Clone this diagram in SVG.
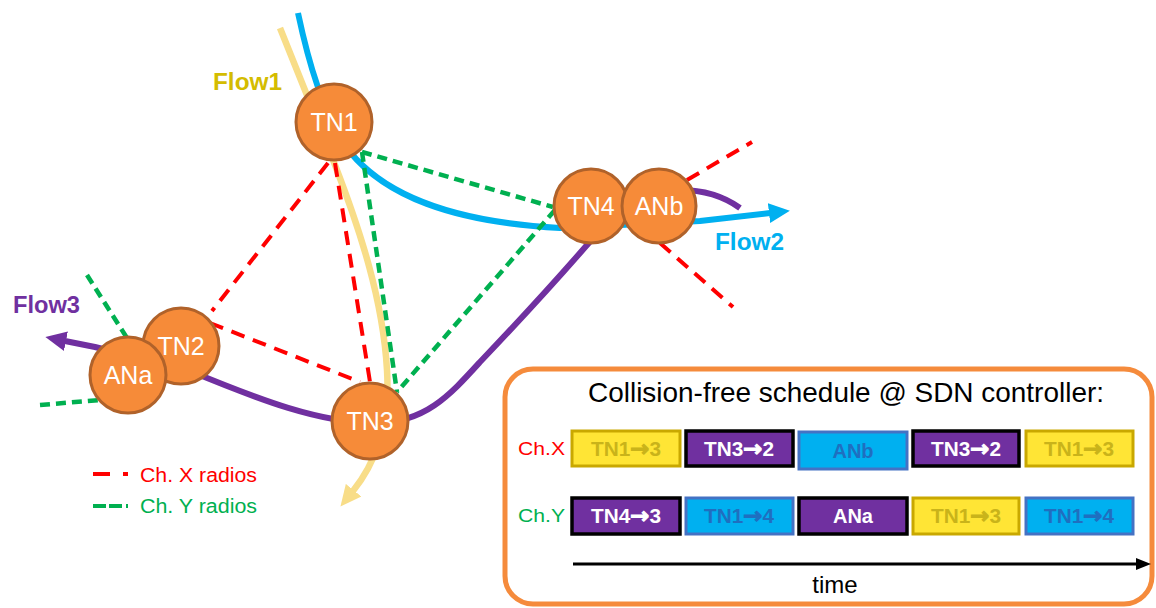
<svg xmlns="http://www.w3.org/2000/svg" width="1156" height="608" viewBox="0 0 1156 608">
  <style>
    .node circle { fill: #f68b39; stroke: #b0622a; stroke-width: 3; }
    .node text { font-family: "Liberation Sans", Arial, sans-serif; font-size: 25px; fill: #ffffff; text-anchor: middle; }
    .flow { fill: none; stroke-linecap: butt; stroke-linejoin: round; }
    .chx { stroke: #ff0000; stroke-width: 4; stroke-dasharray: 14 9; fill: none; }
    .chy { stroke: #00b050; stroke-width: 4.5; stroke-dasharray: 10 6; fill: none; }
    .flowlabel { font-family: "Liberation Sans", Arial, sans-serif; font-size: 24px; font-weight: bold; }
    .legend { font-family: "Liberation Sans", Arial, sans-serif; font-size: 20px; }
    .cell text { font-family: "Liberation Sans", "DejaVu Sans", Arial, sans-serif; font-size: 20px; font-weight: bold; text-anchor: middle; }
    .cell .ar { font-family: "DejaVu Sans", sans-serif; font-size: 22px; font-weight: bold; stroke-width: 1; }
    .yel rect { fill: #ffe535; stroke: #c9a800; stroke-width: 3; }
    .yel text { fill: #c9b31a; }
    .yel .ar { stroke: #c9b31a; }
    .pur rect { fill: #7030a0; stroke: #000000; stroke-width: 3.5; }
    .pur text { fill: #ffffff; }
    .pur .ar { stroke: #ffffff; }
    .blu rect { fill: #00b0f0; stroke: #4472c4; stroke-width: 3; }
    .blu text { fill: #1f6fc0; }
    .blu .ar { stroke: #1f6fc0; }
  </style>
  <defs>
    <marker id="arrBlue" markerUnits="userSpaceOnUse" markerWidth="22" markerHeight="22" refX="1" refY="11" orient="auto">
      <path d="M0,1 L21,11 L0,21 z" fill="#00b0f0"/>
    </marker>
    <marker id="arrYellow" markerUnits="userSpaceOnUse" markerWidth="22" markerHeight="22" refX="1" refY="11" orient="auto">
      <path d="M0,1 L21,11 L0,21 z" fill="#f8dd88"/>
    </marker>
    <marker id="arrPurple" markerUnits="userSpaceOnUse" markerWidth="22" markerHeight="22" refX="1" refY="11" orient="auto">
      <path d="M0,1 L21,11 L0,21 z" fill="#7030a0"/>
    </marker>
    <marker id="arrBlack" markerUnits="userSpaceOnUse" markerWidth="16" markerHeight="14" refX="1" refY="7" orient="auto">
      <path d="M0,1 L15,7 L0,13 z" fill="#000000"/>
    </marker>
  </defs>

  <!-- connectors: flows and radio links -->
  <g id="connectors">
    <!-- Flow1 (yellow) -->
    <path class="flow" stroke="#f8dd88" stroke-width="6.5" d="M280,28 L335,165 C360,230 383,300 387,370 C390,420 378,460 353,491" marker-end="url(#arrYellow)"/>
    <!-- Flow2 (blue) -->
    <path class="flow" stroke="#00b0f0" stroke-width="6" d="M298,13 C308,60 322,112 350,152 C385,195 450,222 560,228 L700,221 L770,213" marker-end="url(#arrBlue)"/>
    <!-- Flow3 (purple) -->
    <path class="flow" stroke="#7030a0" stroke-width="6" d="M740,208 Q715,190 680,190 L600,230 C570,265 520,320 480,362 C450,395 425,423 375,423 C320,423 260,400 190,371 L95,347 L65,341" marker-end="url(#arrPurple)"/>

    <!-- Ch. X links -->
    <line class="chx" x1="328" y1="163" x2="212" y2="311"/>
    <line class="chx" x1="335" y1="163" x2="370" y2="382"/>
    <line class="chx" x1="210" y1="323" x2="360" y2="382"/>
    <line class="chx" x1="687" y1="180" x2="752" y2="142"/>
    <line class="chx" x1="660" y1="243" x2="733" y2="307"/>

    <!-- Ch. Y links -->
    <line class="chy" x1="362" y1="152" x2="553" y2="207"/>
    <line class="chy" x1="362" y1="152" x2="397" y2="392"/>
    <line class="chy" x1="555" y1="210" x2="397" y2="392"/>
    <line class="chy" x1="87" y1="275" x2="127" y2="338"/>
    <line class="chy" x1="40" y1="405" x2="100" y2="400"/>
  </g>

  <!-- nodes -->
  <g id="TN1" class="node"><circle cx="334" cy="122" r="38"/><text x="334" y="131">TN1</text></g>
  <g id="TN2" class="node"><circle cx="181" cy="346" r="38"/><text x="181" y="355">TN2</text></g>
  <g id="ANa" class="node"><circle cx="128" cy="375" r="38"/><text x="128" y="384">ANa</text></g>
  <g id="TN3" class="node"><circle cx="370" cy="421" r="38"/><text x="370" y="430">TN3</text></g>
  <g id="TN4" class="node"><circle cx="591" cy="206" r="37"/><text x="591" y="215">TN4</text></g>
  <g id="ANb" class="node"><circle cx="659" cy="206" r="37"/><text x="659" y="215">ANb</text></g>

  <!-- flow labels -->
  <g id="flow-labels">
    <text class="flowlabel" x="213" y="90" fill="#d4bc00" textLength="69" lengthAdjust="spacingAndGlyphs">Flow1</text>
    <text class="flowlabel" x="715" y="250" fill="#00b0f0" textLength="69" lengthAdjust="spacingAndGlyphs">Flow2</text>
    <text class="flowlabel" x="13" y="313" fill="#7030a0" textLength="67" lengthAdjust="spacingAndGlyphs">Flow3</text>
  </g>

  <!-- legend -->
  <g id="legend">
    <line x1="93" y1="474" x2="130" y2="474" stroke="#ff0000" stroke-width="4" stroke-dasharray="17 13 5 100"/>
    <text class="legend" x="140" y="482" fill="#ff0000" textLength="117" lengthAdjust="spacingAndGlyphs">Ch. X radios</text>
    <line x1="93" y1="506" x2="130" y2="506" stroke="#00b050" stroke-width="4" stroke-dasharray="13 3 13 4 2 100"/>
    <text class="legend" x="140" y="513" fill="#00b050" textLength="117" lengthAdjust="spacingAndGlyphs">Ch. Y radios</text>
  </g>

  <!-- schedule panel -->
  <g id="schedule">
    <rect x="505" y="369" width="647" height="235" rx="28" fill="#ffffff" stroke="#f58b3c" stroke-width="5"/>
    <text x="588" y="402" font-family="'Liberation Sans', Arial, sans-serif" font-size="28" fill="#000000" textLength="516" lengthAdjust="spacingAndGlyphs">Collision-free schedule @ SDN controller:</text>

    <text x="518" y="455" font-family="'Liberation Sans', Arial, sans-serif" font-size="19" fill="#ff0000" textLength="47" lengthAdjust="spacingAndGlyphs">Ch.X</text>
    <text x="518" y="522" font-family="'Liberation Sans', Arial, sans-serif" font-size="19" fill="#00b050" textLength="47" lengthAdjust="spacingAndGlyphs">Ch.Y</text>

    <!-- Ch.X row -->
    <g class="cell yel"><rect x="572" y="431" width="108" height="35"/><text x="626" y="456" textLength="70" lengthAdjust="spacingAndGlyphs">TN1<tspan class="ar">→</tspan>3</text></g>
    <g class="cell pur"><rect x="686" y="431" width="107" height="35"/><text x="739" y="456" textLength="70" lengthAdjust="spacingAndGlyphs">TN3<tspan class="ar">→</tspan>2</text></g>
    <g class="cell blu"><rect x="799" y="432" width="108" height="37"/><text x="853" y="458">ANb</text></g>
    <g class="cell pur"><rect x="913" y="431" width="106" height="35"/><text x="966" y="456" textLength="70" lengthAdjust="spacingAndGlyphs">TN3<tspan class="ar">→</tspan>2</text></g>
    <g class="cell yel"><rect x="1026" y="431" width="107" height="35"/><text x="1079" y="456" textLength="70" lengthAdjust="spacingAndGlyphs">TN1<tspan class="ar">→</tspan>3</text></g>

    <!-- Ch.Y row -->
    <g class="cell pur"><rect x="572" y="498" width="108" height="36"/><text x="626" y="523" textLength="70" lengthAdjust="spacingAndGlyphs">TN4<tspan class="ar">→</tspan>3</text></g>
    <g class="cell blu"><rect x="686" y="498" width="107" height="36"/><text x="739" y="523" textLength="70" lengthAdjust="spacingAndGlyphs">TN1<tspan class="ar">→</tspan>4</text></g>
    <g class="cell pur"><rect x="799" y="498" width="108" height="36"/><text x="853" y="523">ANa</text></g>
    <g class="cell yel"><rect x="913" y="498" width="106" height="36"/><text x="966" y="523" textLength="70" lengthAdjust="spacingAndGlyphs">TN1<tspan class="ar">→</tspan>3</text></g>
    <g class="cell blu"><rect x="1026" y="498" width="107" height="36"/><text x="1079" y="523" textLength="70" lengthAdjust="spacingAndGlyphs">TN1<tspan class="ar">→</tspan>4</text></g>

    <!-- time axis -->
    <line x1="573" y1="564" x2="1137" y2="564" stroke="#000000" stroke-width="3" marker-end="url(#arrBlack)"/>
    <text x="835" y="593" font-family="'Liberation Sans', Arial, sans-serif" font-size="24" fill="#000000" text-anchor="middle">time</text>
  </g>
</svg>
